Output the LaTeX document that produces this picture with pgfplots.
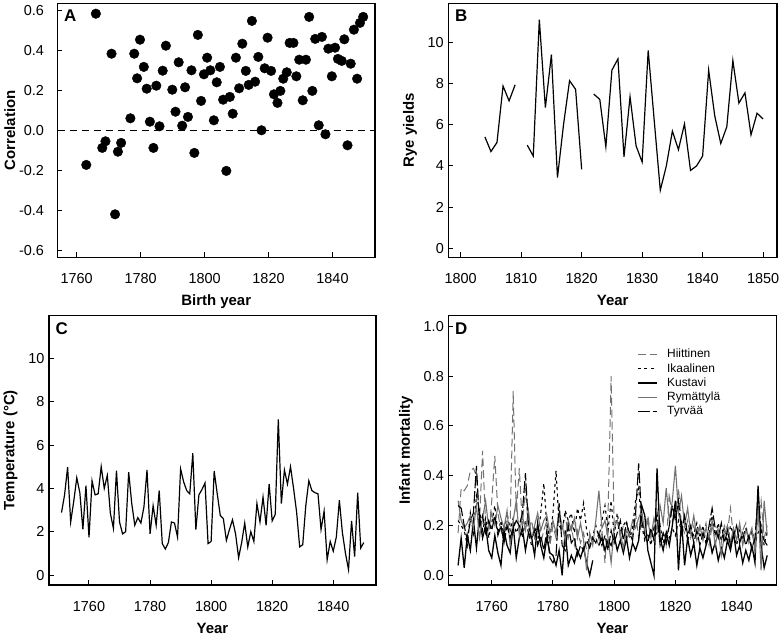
\documentclass[border=0pt]{standalone}
\usepackage{pgfplots}
\pgfplotsset{compat=1.18}
\usepackage{pgfplotstable}
\usepackage{fontspec}
\setmainfont{Liberation Sans}

\definecolor{midgray}{gray}{0.45}

\pgfplotstableread{
year H I K R T
1749 0.17 0.22 0.04 0.30 0.28
1750 0.35 0.20 0.15 0.22 0.27
1751 0.34 0.18 0.03 0.19 0.20
1752 0.36 0.12 0.16 0.21 0.14
1753 0.42 0.25 0.10 0.24 0.22
1754 0.43 0.17 0.22 0.19 0.25
1755 0.40 0.32 0.11 0.28 0.44
1756 0.22 0.26 0.24 0.15 0.20
1757 0.50 0.18 0.15 0.23 0.24
1758 0.20 0.23 0.20 0.30 0.17
1759 0.16 0.15 0.10 0.19 0.22
1760 0.30 0.21 0.07 0.25 0.18
1761 0.48 0.28 0.16 0.20 0.24
1762 0.25 0.17 0.09 0.28 0.16
1763 0.18 0.22 0.04 0.23 0.20
1764 0.14 0.16 0.18 0.19 0.13
1765 0.22 0.25 0.12 0.26 0.20
1766 0.20 0.18 0.09 0.12 0.15
1767 0.74 0.23 0.20 0.22 0.19
1768 0.25 0.17 0.07 0.30 0.22
1769 0.43 0.20 0.15 0.16 0.20
1770 0.20 0.15 0.19 0.24 0.25
1771 0.35 0.22 0.10 0.18 0.41
1772 0.18 0.17 0.17 0.26 0.20
1773 0.22 0.12 0.15 0.14 0.15
1774 0.15 0.20 0.08 0.20 0.18
1775 0.20 0.13 0.21 0.25 0.12
1776 0.13 0.25 0.12 0.18 0.16
1777 0.18 0.37 0.07 0.22 0.10
1778 0.22 0.20 0.15 0.24 0.18
1779 0.12 0.15 0.09 0.17 0.07
1780 0.20 0.25 0.08 0.22 0.05
1781 0.15 0.42 0.04 0.17 0.08
1782 0.24 0.20 0.10 0.25 0.29
1783 0.18 0.18 0.00 0.20 0.12
1784 0.25 0.26 0.18 0.14 0.10
1785 0.15 0.22 0.04 0.22 0.20
1786 0.20 0.25 0.08 0.18 0.13
1787 0.12 0.17 0.05 0.23 0.15
1788 0.18 0.27 0.10 0.15 0.08
1789 0.13 0.22 0.07 0.21 0.12
1790 0.17 0.29 0.11 0.14 0.10
1791 0.10 0.18 0.05 0.02 0.14
1792 nan 0.12 0.00 0.17 0.11
1793 nan 0.16 0.06 0.12 0.15
1794 0.15 0.20 nan 0.22 0.13
1795 0.12 0.15 0.12 0.34 0.17
1796 0.18 0.22 0.15 0.19 0.12
1797 0.05 0.28 0.10 0.22 0.16
1798 0.25 0.18 0.14 0.15 0.10
1799 0.80 0.30 0.12 0.05 0.18
1800 0.20 0.16 0.16 0.19 0.13
1801 0.22 0.25 0.10 0.22 0.17
1802 0.15 0.17 0.14 0.17 0.22
1803 0.20 0.20 0.09 0.11 0.14
1804 0.14 0.22 0.15 0.18 0.21
1805 0.18 0.15 0.07 0.16 0.17
1806 0.16 0.19 0.13 0.22 0.14
1807 0.25 0.30 0.10 0.19 0.25
1808 0.15 0.35 0.14 0.23 0.45
1809 0.22 0.20 0.28 0.26 0.22
1810 0.18 0.14 0.24 0.17 0.16
1811 0.24 0.17 0.10 0.22 0.13
1812 0.16 0.12 0.05 0.15 0.19
1813 0.19 0.19 0.00 0.23 0.14
1814 0.22 0.16 0.43 0.18 0.25
1815 0.14 0.20 0.15 0.28 0.12
1816 0.17 0.13 0.10 0.21 0.17
1817 0.12 0.18 0.17 0.35 0.13
1818 0.33 0.15 0.12 0.22 0.20
1819 0.22 0.19 0.20 0.30 0.28
1820 0.25 0.16 0.30 0.44 0.22
1821 0.35 0.22 0.02 0.25 0.30
1822 0.20 0.18 0.22 0.32 0.17
1823 0.17 0.21 0.04 0.20 0.24
1824 0.22 0.14 0.15 0.27 0.16
1825 0.15 0.18 0.08 0.17 0.20
1826 0.20 0.16 0.13 0.24 0.13
1827 0.14 0.21 0.04 0.16 0.18
1828 0.19 0.15 0.11 0.20 0.12
1829 0.16 0.20 0.07 0.14 0.17
1830 0.21 0.13 0.12 0.19 0.13
1831 0.12 0.17 0.16 0.15 0.20
1832 0.20 0.24 0.09 0.22 0.27
1833 0.15 0.16 0.13 0.12 0.19
1834 0.19 0.21 0.06 0.18 0.15
1835 0.13 0.14 0.11 0.08 0.21
1836 0.20 0.19 0.07 0.16 0.13
1837 0.17 0.13 0.14 0.20 0.18
1838 0.27 0.20 0.10 0.13 0.12
1839 0.15 0.16 0.17 0.19 0.16
1840 0.20 0.12 0.08 0.14 0.20
1841 0.14 0.18 0.12 0.21 0.13
1842 0.18 0.15 0.05 0.12 0.17
1843 0.21 0.19 0.10 0.18 0.12
1844 0.13 0.14 0.06 0.15 0.16
1845 0.17 0.18 0.12 0.19 0.10
1846 0.12 0.13 0.05 0.09 0.15
1847 0.22 0.17 0.36 0.28 0.32
1848 0.30 0.20 0.12 0.02 0.18
1849 0.15 0.12 0.03 0.30 0.14
1850 0.20 0.18 0.08 0.16 0.12
}\infant

\pgfplotsset{
  panel/.style={
    scale only axis,
    anchor=north west,
    axis line style={line width=1.3bp},
    tick pos=left,
    tick align=inside,
    major tick length=5bp,
    every tick/.style={line width=1bp, black},
    ticklabel style={font=\fontsize{14.5}{16}\selectfont},
    xticklabel style={yshift=-13bp},
    yticklabel style={xshift=-1bp},
    label style={font=\fontsize{15}{17}\selectfont\bfseries},
    xlabel style={at={(rel axis cs:0.5,0)}, anchor=base, yshift=-48bp},
    ylabel shift=4bp,
    /pgf/number format/assume math mode=true,
    /pgf/number format/set thousands separator={},
    unbounded coords=jump,
  },
}
\tikzset{letter/.style={anchor=north west, font=\fontsize{17}{19}\selectfont\bfseries, inner sep=0pt}}

\begin{document}
\begin{tikzpicture}
\useasboundingbox (0,0) rectangle (783bp,-637bp);

% Panel A
\begin{axis}[panel,
  at={(57.5bp,-3.3bp)}, width=317.5bp, height=254bp,
  xmin=1754, xmax=1853.3, ymin=-0.635, ymax=0.635,
  xtick={1760,1780,1800,1820,1840},
  ytick={-0.6,-0.4,-0.2,0,0.2,0.4,0.6},
  yticklabel style={xshift=-9bp, /pgf/number format/.cd, fixed, precision=1, fixed zerofill},
  ylabel shift=-3bp,
  xlabel={Birth year}, ylabel={Correlation},
]
\addplot[black, line width=1.1bp, dash pattern=on 7bp off 5bp] coordinates {(1754,0) (1853.3,0)};
\addplot[only marks, mark=*, mark size=4.8bp, black] coordinates {
(1763,-0.173) (1766,0.583) (1768,-0.088) (1769,-0.055) (1770.9,0.383) (1772,-0.42) (1772.9,-0.107) (1773.9,-0.063)
(1776.8,0.06) (1778,0.383) (1778.9,0.26) (1779.8,0.453) (1781,0.317) (1781.9,0.208) (1782.9,0.043) (1784,-0.088)
(1784.9,0.223) (1785.9,0.02) (1786.9,0.298) (1787.9,0.423) (1789.9,0.203) (1790.9,0.093) (1791.9,0.34) (1793,0.023)
(1793.9,0.215) (1794.8,0.067) (1795.9,0.30) (1796.8,-0.113) (1797.9,0.477) (1798.9,0.147) (1799.8,0.28) (1800.8,0.363)
(1801.8,0.30) (1802.9,0.05) (1803.8,0.24) (1804.8,0.317) (1805.8,0.153) (1806.8,-0.203) (1807.9,0.167) (1808.8,0.083)
(1809.8,0.363) (1810.8,0.21) (1811.8,0.433) (1812.9,0.297) (1813.8,0.227) (1814.8,0.547) (1815.8,0.243) (1816.8,0.367)
(1817.8,0.0) (1818.8,0.31) (1819.7,0.463) (1820.8,0.297) (1821.7,0.18) (1822.8,0.137) (1823.7,0.197) (1824.6,0.258)
(1825.7,0.29) (1826.6,0.437) (1827.8,0.437) (1828.7,0.27) (1829.6,0.353) (1830.7,0.15) (1831.7,0.353) (1832.7,0.567)
(1833.7,0.197) (1834.6,0.457) (1835.7,0.025) (1836.7,0.467) (1837.8,-0.02) (1838.7,0.408) (1839.8,0.27) (1840.8,0.413)
(1841.7,0.357) (1842.9,0.347) (1843.7,0.455) (1844.7,-0.075) (1845.7,0.333) (1846.7,0.503) (1847.7,0.258) (1848.6,0.537)
(1849.6,0.567)
};
\node[letter] at (rel axis cs:0.02,0.975) {A};
\end{axis}

% Panel B
\begin{axis}[panel,
  at={(448.3bp,-3.3bp)}, width=328.7bp, height=254bp,
  xmin=1797.95, xmax=1852.3, ymin=-0.44, ymax=11.9,
  xtick={1800,1810,1820,1830,1840,1850},
  ytick={0,2,4,6,8,10},
  xlabel={Year}, ylabel={Rye yields},
]
\addplot[black, line width=1.2bp] coordinates {
(1804,5.41) (1805,4.70) (1806,5.14) (1807,7.88) (1808,7.16) (1809,7.94)
(1810,nan)
(1811,5.01) (1812,4.48) (1813,11.11) (1814,6.83) (1815,9.41) (1816,3.43) (1817,6.0) (1818,8.14) (1819,7.72) (1820,3.83)
(1821,nan)
(1822,7.49) (1823,7.23) (1824,4.93) (1825,8.65) (1826,9.2) (1827,4.44) (1828,7.36) (1829,4.97) (1830,4.19) (1831,9.61)
(1832,6.2) (1833,2.82) (1834,4.0) (1835,5.69) (1836,4.79) (1837,6.04) (1838,3.78) (1839,4.0) (1840,4.48) (1841,8.65)
(1842,6.44) (1843,5.09) (1844,5.9) (1845,9.12) (1846,7.05) (1847,7.55) (1848,5.51) (1849,6.56) (1850,6.28)
};
\node[letter] at (rel axis cs:0.02,0.975) {B};
\end{axis}

% Panel C
\begin{axis}[panel,
  at={(49bp,-315.7bp)}, width=327bp, height=269.3bp,
  xmin=1746.9, xmax=1854, ymin=-0.46, ymax=11.97,
  xtick={1760,1780,1800,1820,1840},
  ytick={0,2,4,6,8,10},
  xlabel={Year}, ylabel={Temperature (°C)},
]
\addplot[black, line width=1.2bp] coordinates {
(1751,2.88) (1752,3.7) (1753,4.98) (1754,2.45) (1755,3.4) (1756,4.49) (1757,3.8) (1758,2.11) (1759,4.12) (1760,1.74)
(1761,4.35) (1762,3.7) (1763,3.75) (1764,5.0) (1765,4.0) (1766,4.6) (1767,2.85) (1768,2.15) (1769,4.82) (1770,2.45)
(1771,1.9) (1772,2.0) (1773,4.75) (1774,3.3) (1775,2.3) (1776,2.65) (1777,2.4) (1778,3.15) (1779,4.85) (1780,1.9)
(1781,3.2) (1782,2.3) (1783,3.9) (1784,1.45) (1785,1.2) (1786,1.5) (1787,2.45) (1788,2.4) (1789,1.75) (1790,4.9)
(1791,4.3) (1792,3.9) (1793,3.75) (1794,5.62) (1795,2.1) (1796,3.7) (1797,3.95) (1798,4.25) (1799,1.45) (1800,1.55)
(1801,4.8) (1802,3.75) (1803,2.75) (1804,2.6) (1805,1.6) (1806,2.1) (1807,2.55) (1808,1.9) (1809,0.8) (1810,1.5)
(1811,2.4) (1812,1.3) (1813,2.0) (1814,1.55) (1815,3.3) (1816,2.45) (1817,3.6) (1818,2.3) (1819,4.2) (1820,2.5)
(1821,2.8) (1822,7.18) (1823,3.3) (1824,4.85) (1825,4.2) (1826,5.0) (1827,4.0) (1828,2.9) (1829,1.3) (1830,1.4)
(1831,3.2) (1832,4.35) (1833,3.9) (1834,3.8) (1835,3.75) (1836,2.1) (1837,2.95) (1838,0.7) (1839,1.55) (1840,1.1)
(1841,1.75) (1842,3.45) (1843,1.95) (1844,1.0) (1845,0.25) (1846,2.5) (1847,0.85) (1848,3.8) (1849,1.25) (1850,1.5)
};
\node[letter] at (rel axis cs:0.02,0.975) {C};
\end{axis}

% Panel D
\begin{axis}[panel,
  at={(448.3bp,-315.7bp)}, width=328.4bp, height=269.3bp,
  xmin=1745.8, xmax=1853.1, ymin=-0.039, ymax=1.043,
  xtick={1760,1780,1800,1820,1840},
  ytick={0,0.2,0.4,0.6,0.8,1.0},
  yticklabel style={/pgf/number format/.cd, fixed, precision=1, fixed zerofill},
  xlabel={Year}, ylabel={Infant mortality},
  legend style={at={(0.575,0.882)}, anchor=north west, draw=none, fill=none,
    font=\fontsize{12}{13}\selectfont, row sep=1.2bp, inner sep=0pt,
    nodes={inner sep=1.5bp}},
  legend cell align=left,
  legend image code/.code={\draw[#1] (0bp,0bp) -- (19bp,0bp);},
]
\addplot[midgray, line width=1bp, dash pattern=on 8bp off 4bp] table[x=year, y=H] {\infant};
\addlegendentry{\hspace{8bp}Hiittinen}
\addplot[black, line width=1.1bp, dash pattern=on 3bp off 3.5bp] table[x=year, y=I] {\infant};
\addlegendentry{\hspace{8bp}Ikaalinen}
\addplot[black, line width=1.3bp] table[x=year, y=K] {\infant};
\addlegendentry{\hspace{8bp}Kustavi}
\addplot[midgray, line width=1.1bp] table[x=year, y=R] {\infant};
\addlegendentry{\hspace{8bp}Rymättylä}
\addplot[black, line width=1.1bp, dash pattern=on 12bp off 3bp] table[x=year, y=T] {\infant};
\addlegendentry{\hspace{8bp}Tyrvää}
\node[letter] at (rel axis cs:0.02,0.975) {D};
\end{axis}
\end{tikzpicture}
\end{document}
